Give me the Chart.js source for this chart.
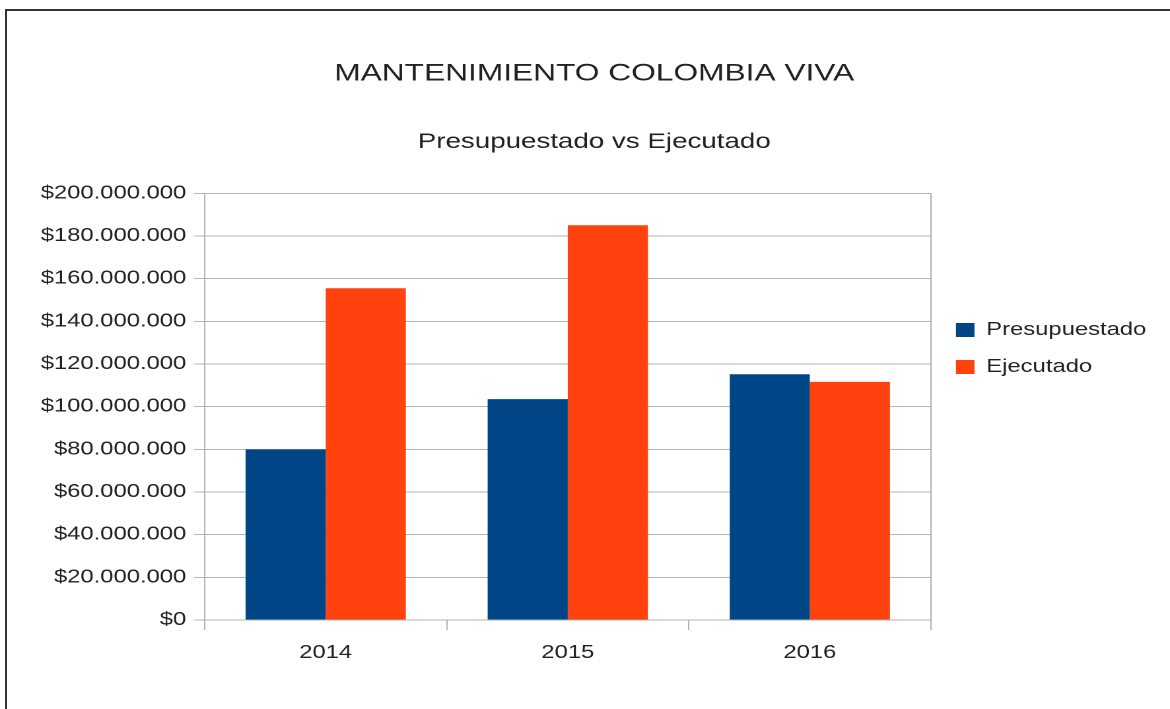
<!DOCTYPE html>
<html>
<head>
<meta charset="utf-8">
<script src="https://cdn.jsdelivr.net/npm/chart.js@4.4.0/dist/chart.umd.min.js"></script>
<style>
  html, body { margin: 0; padding: 0; background: #ffffff; overflow: hidden; width: 1170px; height: 709px; }
  #frame { position: absolute; left: 5px; top: 9px; width: 1300px; height: 800px;
           border-left: 2px solid #333333; border-top: 2px solid #333333; }
  #wrap { position: absolute; left: 0; top: 0; width: 886px; height: 709px;
          transform: scaleX(1.32054); transform-origin: 0 0; }
  canvas { display: block; }
</style>
</head>
<body>
<div id="frame"></div>
<div id="wrap"><canvas id="c" width="886" height="709"></canvas></div>
<script>
// ---- data ----
const categories = ['2014', '2015', '2016'];
const seriesNames = ['Presupuestado', 'Ejecutado'];
const presupuestado = [80000000, 103500000, 115200000];
const ejecutado = [155500000, 185000000, 111600000];
const yTickValues = [0, 20000000, 40000000, 60000000, 80000000, 100000000,
                     120000000, 140000000, 160000000, 180000000, 200000000];
const chartTitle = 'MANTENIMIENTO COLOMBIA VIVA';
const chartSubtitle = 'Presupuestado vs Ejecutado';

const FONT = '"Liberation Sans", Arial, Helvetica, sans-serif';
const TEXT = '#222222';
const GRID = '#b3b3b3';

function fmtMoney(v) {
  return '$' + String(Math.round(v)).replace(/\B(?=(\d{3})+(?!\d))/g, '.');
}

new Chart(document.getElementById('c'), {
  type: 'bar',
  data: {
    labels: categories,
    datasets: [
      { label: seriesNames[0], data: presupuestado, backgroundColor: '#004586', borderWidth: 0 },
      { label: seriesNames[1], data: ejecutado, backgroundColor: '#ff420e', borderWidth: 0 }
    ]
  },
  options: {
    responsive: false,
    animation: false,
    devicePixelRatio: 2,
    layout: { padding: { left: 22, right: 8, top: 0, bottom: 12 } },
    datasets: { bar: { categoryPercentage: 0.662, barPercentage: 1.0 } },
    plugins: {
      title: {
        display: true, text: chartTitle, color: TEXT,
        font: { family: FONT, size: 24, weight: 'normal' },
        padding: { top: 59.6, bottom: 41 }
      },
      subtitle: {
        display: true, text: chartSubtitle, color: TEXT,
        font: { family: FONT, size: 21, weight: 'normal' },
        padding: { top: 0, bottom: 38.7 }
      },
      legend: {
        position: 'right', align: 'center', fullSize: true,
        labels: {
          color: TEXT, font: { family: FONT, size: 18 },
          boxWidth: 14, boxHeight: 14, padding: 19
        }
      },
      tooltip: { enabled: false }
    },
    scales: {
      x: {
        afterFit: (s) => { s.height = 77; },
        grid: {
          offset: true,
          drawOnChartArea: true,
          color: (c) => (c.type === 'scale' ? GRID : 'rgba(0,0,0,0)'),
          tickColor: GRID,
          tickLength: 10,
          lineWidth: 1
        },
        border: { display: true, color: GRID, width: 1 },
        ticks: { color: TEXT, font: { family: FONT, size: 18 }, padding: 12 }
      },
      y: {
        min: 0, max: 200000000,
        afterFit: (s) => { s.width = 133; },
        afterBuildTicks: (s) => { s.ticks = yTickValues.map(v => ({ value: v })); },
        grid: { color: GRID, tickColor: GRID, tickLength: 8, lineWidth: 1 },
        border: { display: true, color: GRID, width: 1 },
        ticks: {
          color: TEXT, font: { family: FONT, size: 18 }, padding: 6,
          callback: (v) => fmtMoney(v)
        }
      }
    }
  }
});
</script>
</body>
</html>
